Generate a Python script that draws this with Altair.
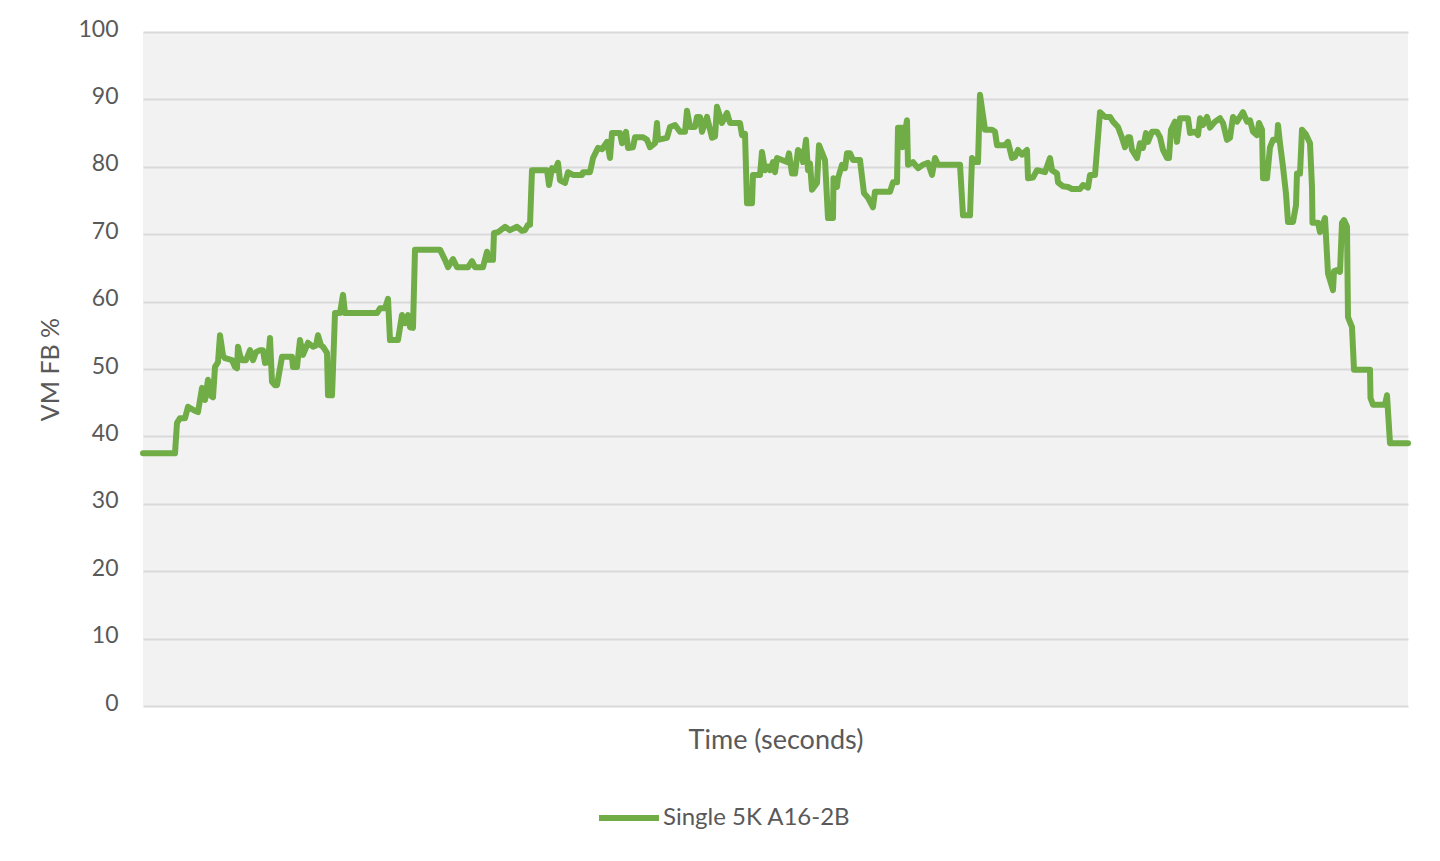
import altair as alt
import pandas as pd

# x position (seconds from start) and VM frame-buffer usage (%), 10 per row
time_s = [
    0, 32, 34, 37, 42, 45, 52, 55, 59, 62,
    65, 68, 70, 72, 75, 77, 80, 82, 89, 92,
    94, 95, 97, 99, 103, 107, 110, 113, 117, 120,
    122, 125, 127, 129, 132, 134, 139, 149, 150, 154,
    157, 160, 165, 170, 173, 175, 178, 180, 184, 185,
    189, 190, 192, 197, 200, 202, 234, 237, 242, 245,
    247, 255, 259, 262, 265, 267, 270, 272, 297, 302,
    305, 310, 314, 325, 329, 332, 340, 344, 345, 350,
    351, 355, 362, 367, 374, 379, 382, 385, 387, 389,
    404, 406, 409, 412, 415, 417, 422, 425, 430, 439,
    440, 447, 450, 455, 459, 464, 467, 469, 477, 479,
    483, 485, 490, 492, 500, 504, 507, 512, 514, 515,
    524, 527, 532, 537, 542, 544, 547, 552, 554, 557,
    559, 564, 569, 572, 574, 579, 584, 587, 597, 599,
    602, 604, 609, 610, 617, 619, 622, 625, 627, 630,
    632, 634, 644, 646, 649, 652, 655, 659, 660, 663,
    665, 667, 669, 674, 676, 682, 685, 690, 690.5, 694,
    695, 699, 702, 704, 707, 710, 717, 721, 725, 730,
    732, 747, 750, 754, 755, 759, 759.5, 764, 765, 770,
    775, 780, 785, 789, 792, 795, 817, 820, 827, 829,
    832, 835, 837, 842, 849, 852, 854, 862, 865, 869,
    872, 875, 879, 884, 885, 890, 894, 902, 907, 909,
    914, 915, 920, 925, 929, 937, 940, 945, 947, 952,
    957, 962, 967, 970, 975, 979, 982, 985, 987, 989,
    994, 997, 1000, 1003, 1005, 1009, 1014, 1017, 1020, 1024,
    1026, 1028, 1032, 1034, 1037, 1045, 1047, 1052, 1055, 1057,
    1060, 1064, 1067, 1072, 1077, 1080, 1084, 1087, 1090, 1094,
    1097, 1100, 1104, 1107, 1110, 1114, 1116, 1119, 1120, 1124,
    1127, 1130, 1134, 1135, 1137, 1140, 1143, 1145, 1150, 1153,
    1154, 1157, 1159, 1163, 1167, 1169, 1169.5, 1175, 1177, 1182,
    1185, 1190, 1191, 1194, 1197, 1199, 1201, 1204, 1205, 1209,
    1211, 1227, 1227.5, 1230, 1242, 1244, 1247, 1265,
]
fb_pct = [
    37.5, 37.5, 42, 42.7, 42.7, 44.4, 43.8, 43.6, 47.2, 45.4,
    48.4, 46, 45.8, 50.3, 51, 55, 52, 51.6, 51.3, 50.3,
    50.1, 53.3, 52, 51.3, 51.3, 52.8, 51.3, 52.5, 52.8, 52.8,
    50.9, 51, 54.6, 48.1, 47.6, 47.6, 51.8, 51.8, 50.3, 50.3,
    54.3, 52.1, 53.9, 53.3, 53.5, 55, 53.5, 53.3, 52.4, 46.1,
    46.1, 50, 58.3, 58.3, 61, 58.3, 58.3, 59, 59, 60.4,
    54.3, 54.3, 58, 56.8, 58, 56.2, 56.1, 67.7, 67.7, 66.2,
    65.1, 66.3, 65.1, 65.1, 66, 65.1, 65.1, 67.4, 66.2, 66.2,
    70.2, 70.3, 71.1, 70.6, 71.1, 70.5, 70.6, 71.4, 71.4, 79.5,
    79.5, 77.3, 79.8, 79.5, 80.6, 78, 77.6, 79.2, 78.8, 78.8,
    79.2, 79.2, 81.3, 82.8, 82.6, 83.7, 81.3, 85, 85, 83.5,
    85.2, 82.8, 82.9, 84.4, 84.4, 84, 82.9, 83.5, 86.5, 84,
    84.3, 85.9, 86.2, 85.2, 85.2, 88.3, 85.9, 85.9, 87.4, 87.4,
    85.2, 87.4, 84.3, 84.5, 88.9, 86.5, 88, 86.5, 86.5, 84.7,
    84.9, 74.6, 74.6, 78.8, 78.8, 82.2, 79.5, 80, 79.5, 80.7,
    79.2, 81.3, 80.7, 82, 79, 79, 82.5, 82, 80.7, 84,
    79.5, 80.5, 76.6, 77.6, 83.2, 81, 72.4, 72.4, 78.3, 77,
    78.3, 80.3, 79.8, 82, 82, 81, 81, 76.1, 75.4, 74,
    76.3, 76.3, 77.7, 77.7, 85.8, 85.8, 82.9, 86.9, 80.3, 80.7,
    79.8, 80.3, 80.6, 78.8, 81.3, 80.3, 80.3, 72.8, 72.8, 81.3,
    80.7, 80.7, 90.7, 85.5, 85.5, 85.2, 83.2, 83.2, 83.7, 81.3,
    81.5, 82.5, 81.8, 82.5, 78.3, 78.4, 79.5, 79.2, 81.3, 79.5,
    79, 77.7, 77.1, 77, 76.7, 76.7, 77.3, 76.9, 78.8, 78.8,
    88.1, 87.4, 87.4, 86.7, 85.9, 84.3, 82.9, 84.4, 84.4, 82.5,
    81.3, 83.5, 82.8, 85, 83.7, 85.2, 85.2, 84.4, 82.5, 81.3,
    81.3, 85.5, 86.7, 83.7, 87.2, 87.2, 85, 85.2, 84.7, 87.2,
    86.2, 87.4, 85.8, 86.7, 87.2, 86.5, 84, 84.3, 87.4, 86.7,
    87.4, 88.1, 86.7, 86.9, 85.2, 84.7, 86.5, 85.5, 78.3, 78.3,
    82.9, 84, 84, 86.2, 83.5, 80, 76, 71.8, 71.8, 74.3,
    79, 79, 85.5, 84.8, 83.5, 77, 71.7, 71.7, 70.3, 72.4,
    64.2, 61.7, 64.5, 64.7, 64.4, 71.7, 72.1, 71.1, 57.7, 56.2,
    49.9, 49.9, 45.7, 44.7, 44.7, 46.1, 39, 39,
]
series_name = "Single 5K A16-2B"
y_ticks = [0, 10, 20, 30, 40, 50, 60, 70, 80, 90, 100]

n = min(len(time_s), len(fb_pct))
df = pd.DataFrame({"Time": time_s[:n], "FB": fb_pct[:n], "Series": [series_name] * n,
                   "Order": list(range(n))})

FONT = "Lato"
TXT = "#595959"

chart = alt.Chart(df).mark_line(
    strokeWidth=6, strokeJoin="round", strokeCap="round"
).encode(
    x=alt.X("Time:Q",
            scale=alt.Scale(domain=[0, 1265], nice=False, zero=False),
            axis=alt.Axis(title="Time (seconds)", labels=False, ticks=False, domain=False,
                          grid=False, titleFont=FONT, titleFontSize=27, titleFontWeight="normal",
                          titleColor=TXT, titlePadding=21)),
    y=alt.Y("FB:Q",
            scale=alt.Scale(domain=[0, 100], nice=False),
            axis=alt.Axis(title="VM FB %", values=y_ticks, ticks=False, domain=False,
                          grid=True, gridColor="#d9d9d9", gridWidth=2,
                          labelFont=FONT, labelFontSize=23, labelColor=TXT, labelPadding=25,
                          labelOffset=-3,
                          titleFont=FONT, titleFontSize=25, titleFontWeight="normal",
                          titleColor=TXT, titlePadding=14)),
    color=alt.Color("Series:N",
                    scale=alt.Scale(range=["#70ad47"]),
                    legend=alt.Legend(title=None, orient="none", legendX=453, legendY=753,
                                      symbolType="stroke", symbolSize=3600, symbolStrokeWidth=6,
                                      labelFont=FONT, labelFontSize=24, labelColor=TXT,
                                      labelOffset=1, labelLimit=0)),
    order=alt.Order("Order:Q"),
).properties(
    width=1265, height=674,
    padding={"left": 135, "top": 24, "right": 16, "bottom": 140},
    autosize=alt.AutoSizeParams(type="none"),
    background="white",
).configure_view(fill="#f2f2f2", stroke=None)

chart.save("out.html", embed_options={"renderer": "svg", "actions": False})
